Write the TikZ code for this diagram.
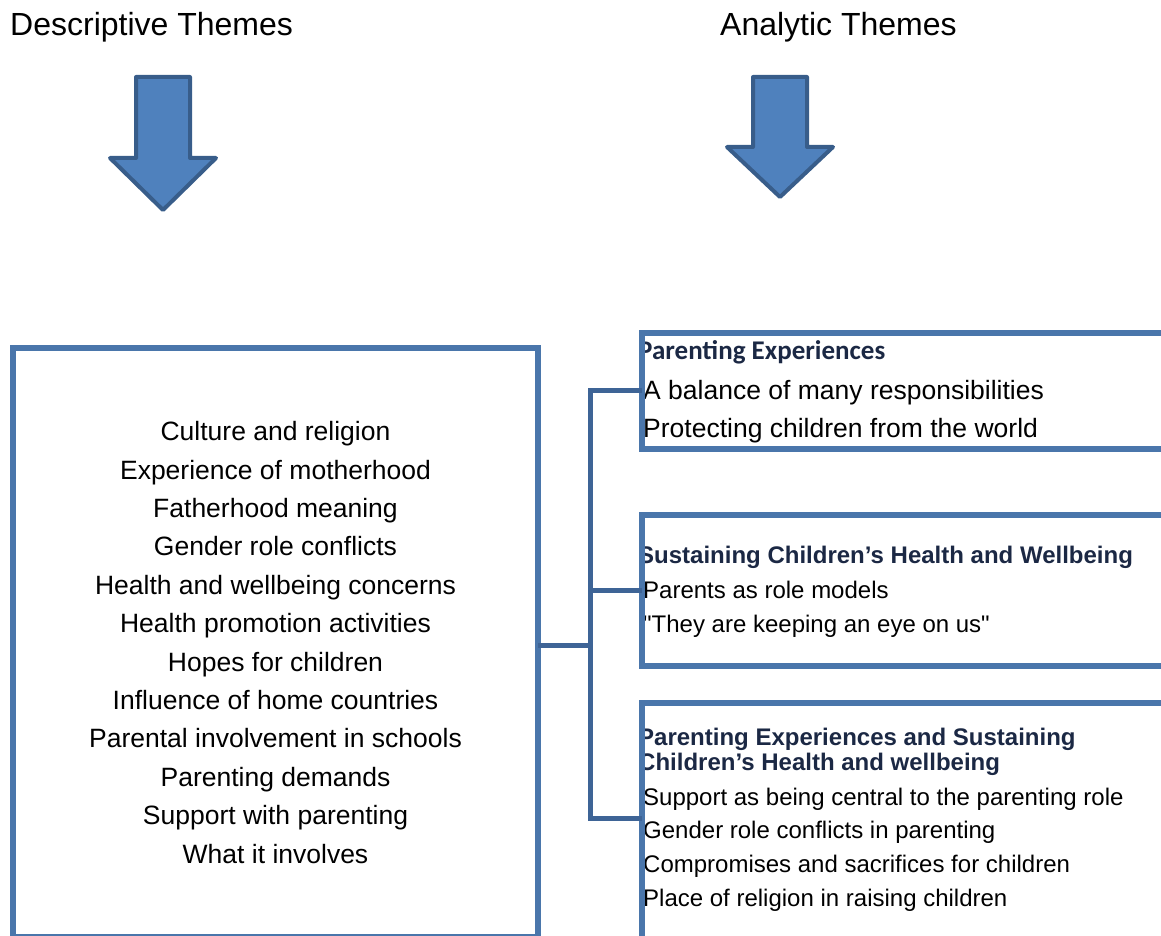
\documentclass[tikz,border=0pt]{standalone}
\usepackage{fontspec}
\setmainfont{Liberation Sans}
\newfontfamily\arial{Liberation Sans}
\newfontfamily\calibri{Carlito}

\definecolor{boxblue}{RGB}{74,118,171}
\definecolor{linkblue}{RGB}{62,100,150}
\definecolor{arrowfill}{RGB}{79,129,189}
\definecolor{arrowedge}{RGB}{56,93,138}
\definecolor{headnavy}{RGB}{27,40,68}

\begin{document}
\begin{tikzpicture}[x=1pt,y=-1pt]

\tikzset{themebox/.style={draw=boxblue,line width=6pt,inner sep=0pt,outer sep=0pt},
         link/.style={draw=linkblue,line width=5pt},
         arrowshape/.style={fill=arrowfill,draw=arrowedge,line width=4pt,line join=round},
         title/.style={anchor=base west,inner sep=0pt,font=\fontsize{32}{38}\selectfont},
         subhead/.style={anchor=base west,inner sep=0pt,text=headnavy,font=\fontsize{24}{25}\selectfont\bfseries},
         item/.style={anchor=base west,inner sep=0pt,font=\arial\fontsize{24}{28}\selectfont},
         pics/themearrow/.style 2 args={code={
            \draw[arrowshape] (-27,0) -- (27,0) -- (27,#1) -- (53,#1) -- (0,#2) -- (-53,#1) -- (-27,#1) -- cycle;}}}

\useasboundingbox (0,0) rectangle (1161,936);

\node[title] (desctitle) at (10,36) {Descriptive Themes};
\node[title] (anatitle) at (720,36) {Analytic Themes};

\pic at (163,77) {themearrow={81}{133}};
\pic at (780,77) {themearrow={70}{120}};

\node[themebox,minimum width=525pt,minimum height=589pt,align=center,
      font=\fontsize{26.5}{38.4}\selectfont] (desc) at (275.5,642.5)
    {Culture and religion\\
     Experience of motherhood\\
     Fatherhood meaning\\
     Gender role conflicts\\
     Health and wellbeing concerns\\
     Health promotion activities\\
     Hopes for children\\
     Influence of home countries\\
     Parental involvement in schools\\
     Parenting demands\\
     Support with parenting\\
     What it involves};

\begin{scope}
\clip (640,0) rectangle (1161,936);
\node[subhead,font=\calibri\fontsize{27}{28}\selectfont\bfseries] (exphead) at (638,359) {Parenting Experiences};
\foreach \txt [count=\i] in {A balance of many responsibilities,Protecting children from the world}
    \node[item,font=\arial\fontsize{26.5}{30}\selectfont] (expitem\i) at (643,{399+38*(\i-1)}) {\txt};

\node[subhead] (wellhead) at (638,563) {Sustaining Children’s Health and Wellbeing};
\foreach \txt [count=\i] in {Parents as role models,"They are keeping an eye on us"}
    \node[item] (wellitem\i) at (643,{598+34*(\i-1)}) {\txt};

\node[subhead] (bothhead1) at (638,745) {Parenting Experiences and Sustaining};
\node[subhead] (bothhead2) at (638,770) {Children’s Health and wellbeing};
\foreach \txt [count=\i] in {Support as being central to the parenting role,Gender role conflicts in parenting,
                             Compromises and sacrifices for children,Place of religion in raising children}
    \node[item] (bothitem\i) at (643,{805+33.8*(\i-1)}) {\txt};
\end{scope}

\node[themebox,anchor=north west,minimum width=560pt,minimum height=116pt] (experiences) at (642,332.5) {};
\node[themebox,anchor=north west,minimum width=560pt,minimum height=151pt] (wellbeing) at (642,514.5) {};
\node[themebox,anchor=north west,minimum width=560pt,minimum height=300pt] (combined) at (642,703) {};

\coordinate (fork) at (590,645);
\draw[link] (desc.east |- fork) -- (fork);
\draw[link] (experiences.west) -| (fork) |- (combined.west |- 0,818);
\draw[link] (fork |- wellbeing.west) -- (wellbeing.west);

\end{tikzpicture}
\end{document}
